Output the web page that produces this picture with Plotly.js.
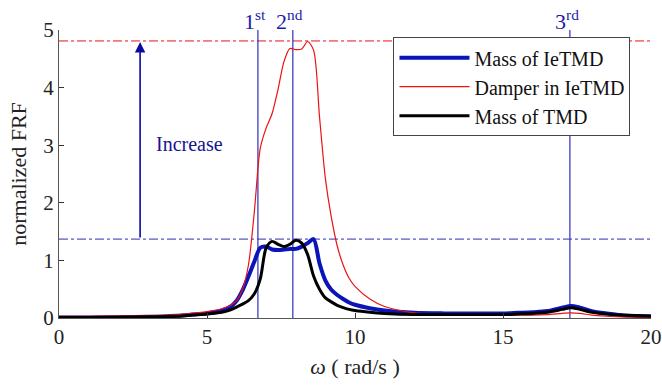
<!DOCTYPE html>
<html>
<head>
<meta charset="utf-8">
<script src="https://cdn.plot.ly/plotly-3.0.1.min.js"></script>
<style>html,body{margin:0;padding:0;background:#fff;}#chart{width:662px;height:386px;}</style>
</head>
<body>
<div id="chart"></div>
<script>
// frequency grid (rad/s)
const omega = [0,1,2,3,4,4.5,5,5.5,5.8,6.0,6.2,6.4,6.6,6.8,7.0,7.2,7.4,7.6,7.8,8.0,8.2,8.4,8.6,8.8,9.0,9.2,9.4,9.6,9.8,10,10.5,11,12,13,14,15,15.5,16,16.5,17,17.3,17.6,18,18.5,19,20];
const massIeTMD = [0.01,0.01,0.015,0.02,0.04,0.06,0.08,0.13,0.2,0.3,0.48,0.72,0.98,1.22,1.24,1.19,1.18,1.19,1.2,1.2,1.24,1.3,1.37,0.95,0.65,0.49,0.4,0.33,0.27,0.23,0.17,0.13,0.09,0.08,0.08,0.08,0.09,0.1,0.12,0.18,0.21,0.18,0.12,0.08,0.05,0.03];
const damperIeTMD = [0.03,0.03,0.035,0.04,0.06,0.08,0.11,0.16,0.22,0.3,0.5,0.92,1.85,2.95,3.3,3.55,3.97,4.45,4.68,4.66,4.67,4.8,4.65,3.5,2.42,1.75,1.25,0.92,0.69,0.55,0.33,0.2,0.09,0.06,0.05,0.05,0.05,0.05,0.06,0.08,0.09,0.08,0.05,0.03,0.02,0.01];
const massTMD = [0.01,0.01,0.012,0.02,0.03,0.05,0.07,0.1,0.14,0.19,0.24,0.3,0.42,0.68,1.22,1.33,1.28,1.24,1.28,1.35,1.3,1.1,0.73,0.5,0.35,0.28,0.22,0.18,0.15,0.13,0.1,0.08,0.06,0.06,0.06,0.06,0.07,0.08,0.1,0.15,0.18,0.15,0.1,0.07,0.05,0.03];
const seriesNames = ["Mass of IeTMD","Damper in IeTMD","Mass of TMD"];
const modeFreqs = [6.72, 7.9, 17.26];
const modeLabels = ["1<sup>st</sup>","2<sup>nd</sup>","3<sup>rd</sup>"];
const peakDamper = 4.81;
const peakMass = 1.37;
const xTicks = [0,5,10,15,20];
const yTicks = [0,1,2,3,4,5];

const serif = "Liberation Serif";
const modeBlue = "#2e2ebc";

const traces = [
  {x: omega, y: massIeTMD, name: seriesNames[0], mode: "lines", line: {color: "#0a14b8", width: 4, shape: "spline", smoothing: 0.8}},
  {x: omega, y: damperIeTMD, name: seriesNames[1], mode: "lines", line: {color: "#ee1111", width: 1.2, shape: "spline", smoothing: 0.8}},
  {x: omega, y: massTMD, name: seriesNames[2], mode: "lines", line: {color: "#000000", width: 3, shape: "spline", smoothing: 0.8}}
];

const shapes = [
  {type: "line", xref: "x", yref: "y", x0: 0, x1: 20, y0: peakDamper, y1: peakDamper, line: {color: "#ee1111", width: 1, dash: "dashdot"}, layer: "below"},
  {type: "line", xref: "x", yref: "y", x0: 0, x1: 20, y0: peakMass, y1: peakMass, line: {color: "#2b2bb8", width: 1, dash: "dashdot"}, layer: "below"}
];
modeFreqs.forEach(f => shapes.push({type: "line", xref: "x", yref: "y", x0: f, x1: f, y0: 0, y1: 5, line: {color: modeBlue, width: 1.2}, layer: "below"}));

const annotations = modeFreqs.map((f, i) => ({
  x: f, y: 5, xref: "x", yref: "y", text: modeLabels[i], showarrow: false,
  yanchor: "bottom", xanchor: "center", xshift: -3, yshift: -6,
  font: {family: serif, size: 22, color: "#1c1ca8"}
}));
annotations.push({
  x: 2.74, y: peakDamper - 0.02, ax: 2.74, ay: peakMass, xref: "x", yref: "y", axref: "x", ayref: "y",
  showarrow: true, arrowhead: 2, arrowsize: 1.3, arrowwidth: 1.6, arrowcolor: "#0a0aa0", text: ""
});
annotations.push({
  x: 4.4, y: 3.02, xref: "x", yref: "y", text: "Increase", showarrow: false,
  font: {family: serif, size: 20, color: "#14148f"}
});

const layout = {
  width: 662, height: 386,
  margin: {l: 59, r: 11, t: 30, b: 68},
  paper_bgcolor: "#ffffff", plot_bgcolor: "#ffffff",
  font: {family: serif, size: 20, color: "#222"},
  showlegend: true,
  legend: {
    x: 0.565, y: 0.975, xanchor: "left", yanchor: "top",
    bgcolor: "#ffffff", bordercolor: "#444", borderwidth: 1,
    font: {family: serif, size: 20, color: "#111"},
    itemwidth: 70, tracegroupgap: 0
  },
  xaxis: {
    range: [0, 20], tickvals: xTicks, ticktext: xTicks.map(String),
    showgrid: false, zeroline: false, showline: true, linecolor: "#555", linewidth: 1,
    ticks: "inside", ticklen: 5, tickcolor: "#333", mirror: false,
    tickfont: {family: serif, size: 21, color: "#222"},
    title: {text: "<i>ω</i> ( rad/s )", font: {family: serif, size: 22, color: "#222"}, standoff: 10}
  },
  yaxis: {
    range: [0, 5], tickvals: yTicks, ticktext: yTicks.map(String),
    showgrid: false, zeroline: false, showline: true, linecolor: "#555", linewidth: 1,
    ticks: "inside", ticklen: 5, tickcolor: "#333",
    tickfont: {family: serif, size: 21, color: "#222"},
    title: {text: "normalized FRF", font: {family: serif, size: 22, color: "#222"}, standoff: 10}
  },
  shapes: shapes,
  annotations: annotations
};

Plotly.newPlot("chart", traces, layout, {displayModeBar: false, staticPlot: true});
</script>
</body>
</html>
